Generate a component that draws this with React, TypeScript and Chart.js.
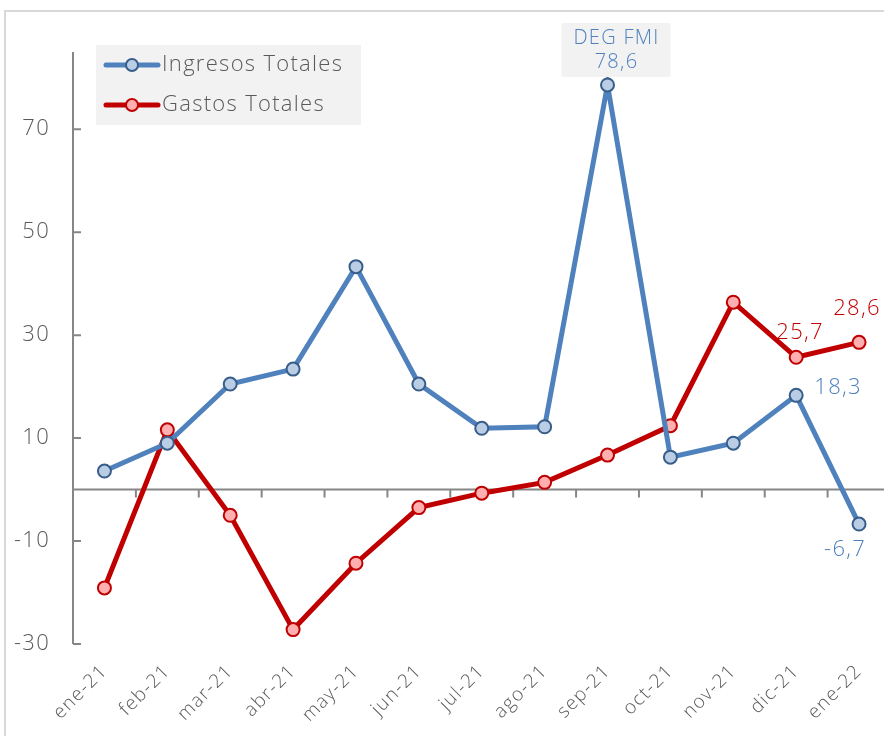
import React, { useEffect, useRef } from "react";
import { Chart, registerables } from "chart.js";

Chart.register(...registerables);

const categories = ["ene-21", "feb-21", "mar-21", "abr-21", "may-21", "jun-21", "jul-21", "ago-21", "sep-21", "oct-21", "nov-21", "dic-21", "ene-22"];
const ingresosTotales = [3.6, 9.0, 20.5, 23.4, 43.3, 20.5, 11.9, 12.2, 78.6, 6.3, 9.0, 18.3, -6.7];
const gastosTotales = [-19.1, 11.6, -5.0, -27.2, -14.3, -3.5, -0.7, 1.4, 6.7, 12.4, 36.4, 25.7, 28.6];
const yTicks = [-30, -10, 10, 30, 50, 70];
const yMin = -30;
const yMax = 85;
const seriesNames = ["Ingresos Totales", "Gastos Totales"];
const annotationTitle = "DEG FMI";

const FONT = "'Open Sans', sans-serif";
const W = "300";
const GRAY = "#595959";
const AXIS = "#868686";
const BLUE = "#4F81BD";
const BLUE_FILL = "#B9CDE5";
const BLUE_EDGE = "#385D8A";
const RED = "#C00000";
const RED_FILL = "#FFAFAF";
const SPACING = "1.3px";

const fmt = (v: number) => v.toFixed(1).replace(".", ",");

// labelled points: [datasetIndex, pointIndex, dx, dy]
const valueLabels: [number, number, number, number][] = [
  [1, 12, -2, -34],
  [1, 11, 4, -25],
  [0, 11, 42, -8],
  [0, 12, -14, 26],
];

const decorPlugin = {
  id: "decor",
  beforeDraw(chart: any) {
    chart.ctx.letterSpacing = SPACING;
  },
  beforeDatasetsDraw(chart: any) {
    const { ctx, chartArea, scales } = chart;
    const x = scales.x;
    const y = scales.y;
    ctx.save();
    ctx.strokeStyle = AXIS;
    ctx.lineWidth = 2;
    ctx.beginPath();
    const ax = chartArea.left;
    ctx.moveTo(ax, chartArea.top);
    ctx.lineTo(ax, chartArea.bottom);
    yTicks.forEach((v) => {
      const py = y.getPixelForValue(v);
      ctx.moveTo(ax, py);
      ctx.lineTo(ax + 8, py);
    });
    const zy = y.getPixelForValue(0);
    ctx.moveTo(ax, zy);
    ctx.lineTo(chartArea.right, zy);
    const half = (x.getPixelForValue(1) - x.getPixelForValue(0)) / 2;
    for (let i = 0; i < categories.length; i++) {
      const bx = x.getPixelForValue(i) + half;
      ctx.moveTo(bx, zy);
      ctx.lineTo(bx, zy + 8);
    }
    ctx.stroke();
    ctx.restore();
  },
  afterDraw(chart: any) {
    const { ctx } = chart;
    ctx.save();
    ctx.letterSpacing = SPACING;
    // legend
    ctx.fillStyle = "#F2F2F2";
    ctx.fillRect(96, 45, 265, 80);
    const ds = chart.data.datasets;
    [65, 105].forEach((ly, i) => {
      const d = ds[i];
      ctx.strokeStyle = d.borderColor;
      ctx.lineWidth = 5;
      ctx.lineCap = "round";
      ctx.beginPath();
      ctx.moveTo(106, ly);
      ctx.lineTo(158, ly);
      ctx.stroke();
      ctx.beginPath();
      ctx.arc(132, ly, 6, 0, Math.PI * 2);
      ctx.fillStyle = d.pointBackgroundColor;
      ctx.fill();
      ctx.lineWidth = 2;
      ctx.strokeStyle = d.pointBorderColor;
      ctx.stroke();
      ctx.fillStyle = GRAY;
      ctx.font = `${W} 22px ${FONT}`;
      ctx.textAlign = "left";
      ctx.textBaseline = "middle";
      ctx.fillText(d.label, 162, ly);
    });
    // value labels
    ctx.font = `${W} 22px ${FONT}`;
    ctx.textAlign = "center";
    ctx.textBaseline = "middle";
    valueLabels.forEach(([di, pi, dx, dy]) => {
      const el = chart.getDatasetMeta(di).data[pi];
      ctx.fillStyle = ds[di].borderColor;
      ctx.fillText(fmt(ds[di].data[pi]), el.x + dx, el.y + dy);
    });
    // DEG FMI annotation
    const peak = ingresosTotales.indexOf(Math.max(...ingresosTotales));
    const pe = chart.getDatasetMeta(0).data[peak];
    const cx = pe.x + 9;
    ctx.fillStyle = "#F2F2F2";
    ctx.fillRect(cx - 55, pe.y - 62, 109, 54);
    ctx.fillStyle = BLUE;
    ctx.font = `${W} 20px ${FONT}`;
    ctx.fillText(annotationTitle, cx, pe.y - 47);
    ctx.fillText(fmt(ingresosTotales[peak]), cx, pe.y - 23);
    ctx.restore();
  },
};

export default function App() {
  const ref = useRef<HTMLCanvasElement>(null);
  useEffect(() => {
    const chart = new Chart(ref.current as HTMLCanvasElement, {
      type: "line",
      data: {
        labels: categories,
        datasets: [
          {
            label: seriesNames[0],
            data: ingresosTotales,
            borderColor: BLUE,
            borderWidth: 5,
            pointBackgroundColor: BLUE_FILL,
            pointBorderColor: BLUE_EDGE,
            pointBorderWidth: 2,
            pointRadius: 6.5,
            tension: 0,
          },
          {
            label: seriesNames[1],
            data: gastosTotales,
            borderColor: RED,
            borderWidth: 5,
            pointBackgroundColor: RED_FILL,
            pointBorderColor: RED,
            pointBorderWidth: 2,
            pointRadius: 6.5,
            tension: 0,
          },
        ],
      },
      options: {
        responsive: false,
        animation: false,
        devicePixelRatio: 1,
        layout: { padding: { top: 52, right: 4, left: 1, bottom: 0 } },
        plugins: { legend: { display: false }, tooltip: { enabled: false }, title: { display: false } },
        scales: {
          x: {
            offset: true,
            grid: { display: false },
            border: { display: false },
            ticks: {
              color: GRAY,
              font: { family: FONT, size: 19, weight: W },
              minRotation: 45,
              maxRotation: 45,
              autoSkip: false,
              padding: 8,
            },
            afterFit: (s: any) => {
              s.height = 92;
            },
          },
          y: {
            min: yMin,
            max: yMax,
            grid: { display: false },
            border: { display: false },
            afterBuildTicks: (s: any) => {
              s.ticks = yTicks.map((v) => ({ value: v }));
            },
            ticks: {
              color: GRAY,
              font: { family: FONT, size: 22, weight: W },
              padding: 15,
              callback: (v: any) => String(v),
            },
            afterFit: (s: any) => {
              s.width = 72;
            },
          },
        },
      },
      plugins: [decorPlugin],
    } as any);
    return () => chart.destroy();
  }, []);
  return (
    <div style={{ position: "absolute", left: 0, top: 0, width: 884, height: 736, overflow: "hidden", background: "#fff" }}>
      <div
        style={{
          position: "absolute",
          left: 4,
          top: 10,
          width: 1000,
          height: 1000,
          borderLeft: "2px solid #D9D9D9",
          borderTop: "2px solid #D9D9D9",
        }}
      />
      <canvas ref={ref} width={899} height={736} style={{ position: "absolute", left: 0, top: 0, width: 899, height: 736 }} />
    </div>
  );
}
